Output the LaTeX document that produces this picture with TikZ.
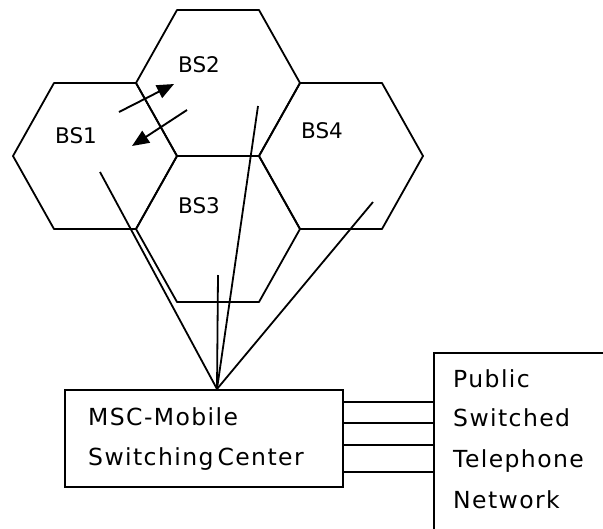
\documentclass[tikz,border=0pt]{standalone}
\usepackage{fontspec}
\setmainfont{DejaVu Sans}
\newfontfamily\wideface[LetterSpace=6]{DejaVu Sans}
\usetikzlibrary{arrows.meta}
\tikzset{
  cell/.style={draw, line width=1.8pt, line join=round},
  link/.style={draw, line width=1.8pt},
  lbl/.style={anchor=base west, inner sep=0pt, font=\fontsize{21.5}{25}\selectfont},
  txt/.style={anchor=base west, inner sep=0pt, font=\wideface\fontsize{23.5}{27}\selectfont},
  box/.style={draw, line width=1.9pt, inner sep=0pt},
  handover/.style={line width=1.9pt, -{Triangle[length=17pt,width=14pt]}}
}
\newcommand{\hexcell}[3]{%
  \draw[cell, shift={(#1,#2)}] (-82,0) -- (-41,-73) -- (41,-73) -- (82,0) -- (41,73) -- (-41,73) -- cycle;
  \coordinate (#3) at (#1,#2);}
\begin{document}
\begin{tikzpicture}[x=1pt,y=-1pt]
\useasboundingbox (0,0) rectangle (603,528);
\clip (0,0) rectangle (603,528);
% cells
\hexcell{95}{156}{c1}
\hexcell{218}{83}{c2}
\hexcell{218}{229}{c3}
\hexcell{341}{156}{c4}
\node[lbl] (bs1) at (55,143) {BS1};
\node[lbl] (bs2) at (178,72) {BS2};
\node[lbl] (bs3) at (178,213) {BS3};
\node[lbl] (bs4) at (301,138) {BS4};
% handover arrows
\coordinate (a1s) at (119,112);
\coordinate (a1e) at (174,84);
\coordinate (a2s) at (187,110);
\coordinate (a2e) at (132,146);
\draw[handover] (a1s) -- (a1e);
\draw[handover] (a2s) -- (a2e);
% MSC
\node[box, minimum width=278pt, minimum height=97pt] (msc) at (204,438.5) {};
\coordinate (hub) at (217,389);
\node[txt] (m1) at (88,425) {MSC-Mobile};
\node[txt] (m2) at (88,465) {Switching\hspace{4pt}Center};
% links from base stations
\coordinate (e1) at (100,172);
\coordinate (e2) at (258,106);
\coordinate (e3) at (218,275);
\coordinate (e4) at (373,202);
\draw[link] (e1) -- (hub);
\draw[link] (e2) -- (hub);
\draw[link] (e3) -- (hub);
\draw[link] (e4) -- (hub);
% PSTN
\node[box, anchor=north west, minimum width=220pt, minimum height=200pt] (pstn) at (433,352) {};
\node[txt] (p1) at (453,387) {Public};
\node[txt] (p2) at (453,426) {Switched};
\node[txt] (p3) at (453,467) {Telephone};
\node[txt] (p4) at (453,508) {Network};
\foreach \yy in {402,423,445,472}{
  \draw[link] (msc.east |- 0,\yy) -- (pstn.west |- 0,\yy);
}
\end{tikzpicture}
\end{document}
